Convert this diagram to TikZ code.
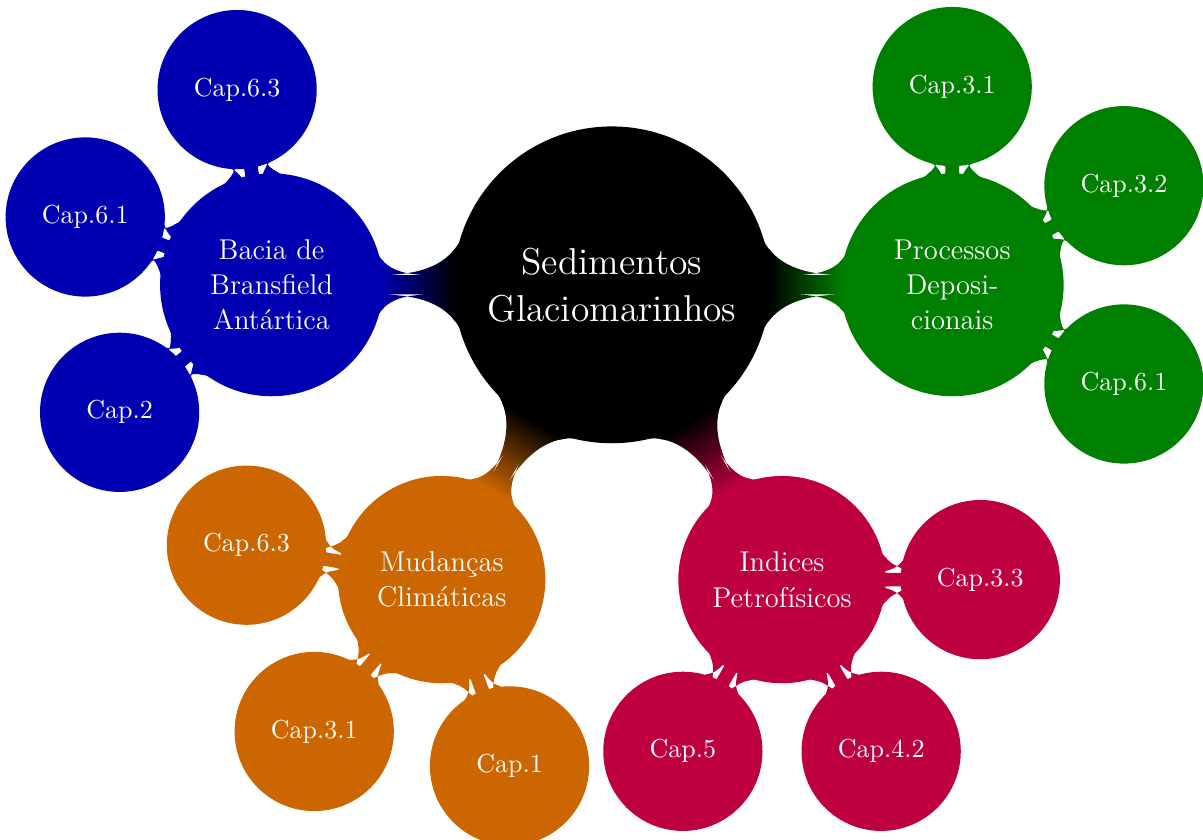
\documentclass[tikz,border=0pt]{standalone}
\usetikzlibrary{mindmap,backgrounds}

\colorlet{bcol}{blue!70!black}
\colorlet{pcol}{green!50!black}
\colorlet{mcol}{orange!80!black}
\colorlet{icol}{purple}

\begin{document}
\begin{tikzpicture}[mindmap, text=white,
    topic/.style={concept, concept color=black, minimum size=4.24cm, text width=3.6cm, inner sep=0pt, align=center, font=\Large},
    theme/.style={concept, minimum size=2.76cm, text width=2cm, inner sep=0pt, align=center, font=\fontsize{11}{13.6}\selectfont},
    chapter/.style={concept, minimum size=2.11cm, text width=1.5cm, inner sep=0pt, align=center, font=\normalsize}]
    \useasboundingbox (-8.27,-7.50) rectangle (7.99,3.85);
    \node[topic] (S) at (0,0) {Sedimentos Glaciomarinhos};
    \node[theme, concept color=bcol, minimum size=2.97cm] (B) at (-4.6,0) {Bacia de Bransfield Antártica};
    \node[theme, concept color=pcol, minimum size=2.97cm] (P) at (4.6,0) {Processos Deposi\-cionais};
    \node[theme, concept color=mcol] (M) at (-2.3,-3.984) {Mudanças Climáticas};
    \node[theme, concept color=icol] (I) at (2.3,-3.984) {Indices Petrofísicos};
    \node[chapter, concept color=bcol] (B1) at (-5.065,2.639) {Cap.6.3};
    \node[chapter, concept color=bcol] (B2) at (-7.118,0.917) {Cap.6.1};
    \node[chapter, concept color=bcol] (B3) at (-6.653,-1.723) {Cap.2};
    \node[chapter, concept color=pcol] (P1) at (4.6,2.68) {Cap.3.1};
    \node[chapter, concept color=pcol] (P2) at (6.921,1.34) {Cap.3.2};
    \node[chapter, concept color=pcol] (P3) at (6.921,-1.34) {Cap.6.1};
    \node[chapter, concept color=mcol] (M1) at (-4.939,-3.519) {Cap.6.3};
    \node[chapter, concept color=mcol] (M2) at (-4.023,-6.037) {Cap.3.1};
    \node[chapter, concept color=mcol] (M3) at (-1.383,-6.502) {Cap.1};
    \node[chapter, concept color=icol] (I1) at (4.98,-3.984) {Cap.3.3};
    \node[chapter, concept color=icol] (I2) at (3.64,-6.305) {Cap.4.2};
    \node[chapter, concept color=icol] (I3) at (0.96,-6.305) {Cap.5};
    \begin{scope}[on background layer]
        \path (S) to[circle connection bar switch color=from (black) to (bcol)] (B);
        \path (S) to[circle connection bar switch color=from (black) to (pcol)] (P);
        \path (S) to[circle connection bar switch color=from (black) to (mcol)] (M);
        \path (S) to[circle connection bar switch color=from (black) to (icol)] (I);
        \path (B) to[circle connection bar switch color=from (bcol) to (bcol)] (B1);
        \path (B) to[circle connection bar switch color=from (bcol) to (bcol)] (B2);
        \path (B) to[circle connection bar switch color=from (bcol) to (bcol)] (B3);
        \path (P) to[circle connection bar switch color=from (pcol) to (pcol)] (P1);
        \path (P) to[circle connection bar switch color=from (pcol) to (pcol)] (P2);
        \path (P) to[circle connection bar switch color=from (pcol) to (pcol)] (P3);
        \path (M) to[circle connection bar switch color=from (mcol) to (mcol)] (M1);
        \path (M) to[circle connection bar switch color=from (mcol) to (mcol)] (M2);
        \path (M) to[circle connection bar switch color=from (mcol) to (mcol)] (M3);
        \path (I) to[circle connection bar switch color=from (icol) to (icol)] (I1);
        \path (I) to[circle connection bar switch color=from (icol) to (icol)] (I2);
        \path (I) to[circle connection bar switch color=from (icol) to (icol)] (I3);
    \end{scope}
\end{tikzpicture}
\end{document}
